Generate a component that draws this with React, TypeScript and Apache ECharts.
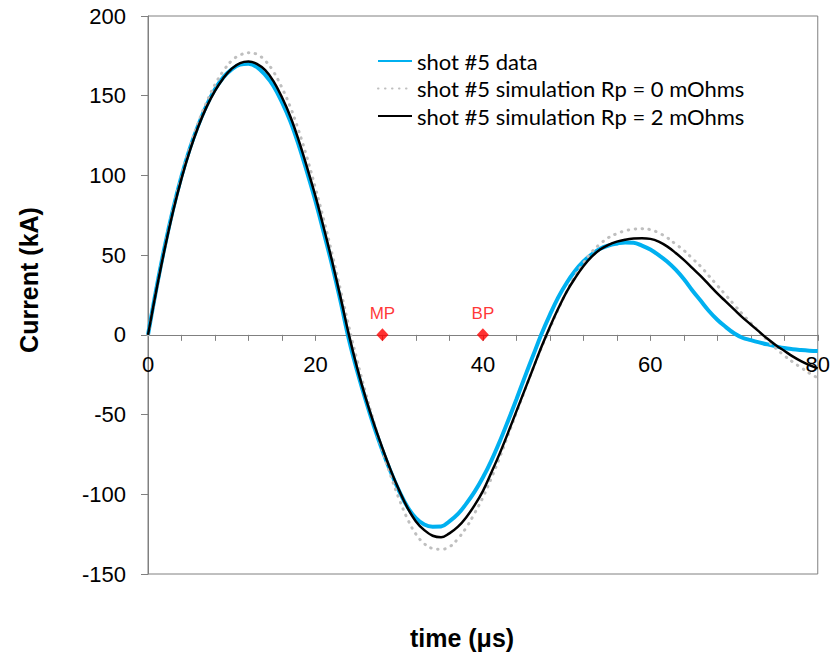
import React, { useEffect, useRef } from "react";
import * as echarts from "echarts";

const timeUs: number[] = Array.from({ length: 81 }, (_, i) => i);

const shotData: number[] = [
  0, 29, 55.5, 79, 99.5, 117, 131.5, 144, 154, 161.5,
  166.5, 169.5, 170, 168, 163, 156, 146, 134, 119, 102,
  84, 64, 43.5, 21, -3, -23, -41, -57.5, -72.5, -86,
  -98, -108, -115, -119, -120.3, -120.2, -117, -112.5, -106, -98.5,
  -89.5, -79, -67, -54, -40.5, -26.5, -13, 0.5, 12.5, 23.5,
  32.5, 40, 46, 50.5, 54, 56, 57.2, 58, 57.8, 56,
  53.5, 50, 46, 41, 35, 28, 21.5, 15, 9.5, 5,
  1, -1.8, -3.3, -4.7, -6, -7.2, -8.3, -9, -9.5, -9.9,
  -10.2,
];

const simRp0: number[] = [
  0, 28, 54.5, 78.5, 99.5, 117.5, 133, 146, 157, 165.5,
  172, 175.5, 177, 176, 172, 165, 155, 143, 128, 111,
  92, 72, 50.5, 28, 5, -16.5, -36.5, -55, -72.5, -88.5,
  -103, -115.5, -125, -131, -134, -134.5, -133, -128, -121, -112,
  -102, -90, -77, -63, -49, -35, -21, -8, 4, 16,
  27, 37, 45, 52, 57, 61, 63.5, 65.3, 66.3, 66.6,
  66, 64, 61, 57, 53, 48, 43, 37, 31, 25,
  19, 13, 7.5, 2, -3.5, -8.5, -13, -17, -20.5, -24,
  -27,
];

const simRp2: number[] = [
  0, 28, 54, 77.5, 98, 115.5, 130.5, 143, 153, 161,
  167, 170.5, 171.5, 170, 166, 159, 149, 137, 122, 105,
  87, 67, 46, 23.5, 0, -21, -39.5, -56, -71, -85,
  -97.5, -108.5, -117, -122.5, -126, -127, -124.5, -120.5, -114.5, -107,
  -98, -86.5, -74.5, -61.5, -48, -34.5, -21, -7.5, 5, 16.5,
  27, 35.5, 43, 49, 53.5, 56.5, 58.5, 59.7, 60.4, 60.6,
  60.2, 58.5, 55.5, 51.5, 47, 42, 37, 31.5, 26, 21,
  16, 11, 6.5, 2, -2.5, -6.5, -10, -13.5, -16.5, -19,
  -21,
];

const markerTimes: number[] = [28, 40];
const markerValues: number[] = [0, 0];
const markerLabels: string[] = ["MP", "BP"];

const seriesNames: string[] = [
  "shot #5 data",
  "shot #5 simulation Rp = 0 mOhms",
  "shot #5 simulation Rp = 2 mOhms",
];

const xTickLabels: number[] = [0, 20, 40, 60, 80];

const AXIS_FONT = "'Liberation Sans', Arial, sans-serif";
const LEGEND_FONT = "Lato, 'Liberation Sans', sans-serif";

const GRID_TOP = 16;
const GRID_BOTTOM = 84;
const CHART_H = 658;
const Y_MIN = -150;
const Y_MAX = 200;

export default function App() {
  const ref = useRef<HTMLDivElement>(null);

  useEffect(() => {
    document.body.style.margin = "0";
    if (!ref.current) return;
    const chart = echarts.init(ref.current, null, { renderer: "svg" });
    const pair = (vals: number[]) => timeUs.map((t, i) => [t, vals[i]]);
    const plotH = CHART_H - GRID_TOP - GRID_BOTTOM;
    const zeroOffset = -(plotH * (0 - Y_MIN)) / (Y_MAX - Y_MIN);

    chart.setOption({
      animation: false,
      backgroundColor: "#ffffff",
      grid: {
        left: 148,
        right: 15,
        top: GRID_TOP,
        bottom: GRID_BOTTOM,
        show: true,
        borderColor: "#808080",
        borderWidth: 1,
        backgroundColor: "transparent",
      },
      legend: {
        orient: "vertical",
        left: 377,
        top: 50,
        padding: 0,
        itemWidth: 34,
        itemHeight: 14,
        itemGap: 5.5,
        data: seriesNames,
        itemStyle: { opacity: 0 },
        textStyle: {
          fontFamily: LEGEND_FONT,
          fontSize: 22,
          color: "#000",
          lineHeight: 22,
        },
      },
      xAxis: {
        type: "value",
        min: 0,
        max: 80,
        interval: 4,
        offset: zeroOffset,
        axisLine: { onZero: false, lineStyle: { color: "#808080", width: 1 } },
        axisTick: { show: true, length: 6, lineStyle: { color: "#808080" } },
        splitLine: { show: false },
        axisLabel: {
          margin: 19,
          fontFamily: AXIS_FONT,
          fontSize: 22,
          color: "#000",
          formatter: (v: number) => (xTickLabels.includes(v) ? String(v) : ""),
        },
      },
      yAxis: {
        type: "value",
        min: Y_MIN,
        max: Y_MAX,
        interval: 50,
        axisLine: { show: true, onZero: false, lineStyle: { color: "#808080", width: 1 } },
        axisTick: { show: true, length: 7, lineStyle: { color: "#808080" } },
        splitLine: { show: false },
        axisLabel: {
          margin: 22,
          fontFamily: AXIS_FONT,
          fontSize: 22,
          color: "#000",
        },
      },
      graphic: [
        {
          type: "text",
          x: 29,
          y: 280,
          rotation: Math.PI / 2,
          style: {
            text: "Current (kA)",
            fontFamily: AXIS_FONT,
            fontWeight: "bold",
            fontSize: 25,
            fill: "#000",
            align: "center",
            verticalAlign: "middle",
          },
        },
        {
          type: "text",
          x: 462,
          y: 638,
          style: {
            text: "time (μs)",
            fontFamily: AXIS_FONT,
            fontWeight: "bold",
            fontSize: 25,
            fill: "#000",
            align: "center",
            verticalAlign: "middle",
          },
        },
      ],
      series: [
        {
          name: seriesNames[0],
          type: "line",
          data: pair(shotData),
          symbol: "none",
          smooth: 0.4,
          lineStyle: { color: "#00b0f0", width: 4 },
          itemStyle: { color: "#00b0f0" },
          z: 2,
        },
        {
          name: seriesNames[1],
          type: "line",
          data: pair(simRp0),
          symbol: "none",
          smooth: 0.4,
          lineStyle: { color: "#bfbfbf", width: 3, type: [0.5, 6.5], cap: "round" },
          itemStyle: { color: "#bfbfbf" },
          z: 3,
        },
        {
          name: seriesNames[2],
          type: "line",
          data: pair(simRp2),
          symbol: "none",
          smooth: 0.4,
          lineStyle: { color: "#000000", width: 2.5 },
          itemStyle: { color: "#000000" },
          z: 4,
        },
        {
          name: "markers",
          type: "scatter",
          data: markerTimes.map((t, i) => ({ value: [t, markerValues[i]], name: markerLabels[i] })),
          symbol: "diamond",
          symbolSize: [12, 13],
          itemStyle: { color: "#ff0000" },
          label: {
            show: true,
            position: "top",
            distance: 6,
            formatter: (p: any) => p.name,
            fontFamily: AXIS_FONT,
            fontSize: 17,
            color: "#ff0000",
          },
          z: 5,
        },
      ],
    });

    return () => chart.dispose();
  }, []);

  return <div ref={ref} style={{ width: 833, height: 658 }} />;
}
